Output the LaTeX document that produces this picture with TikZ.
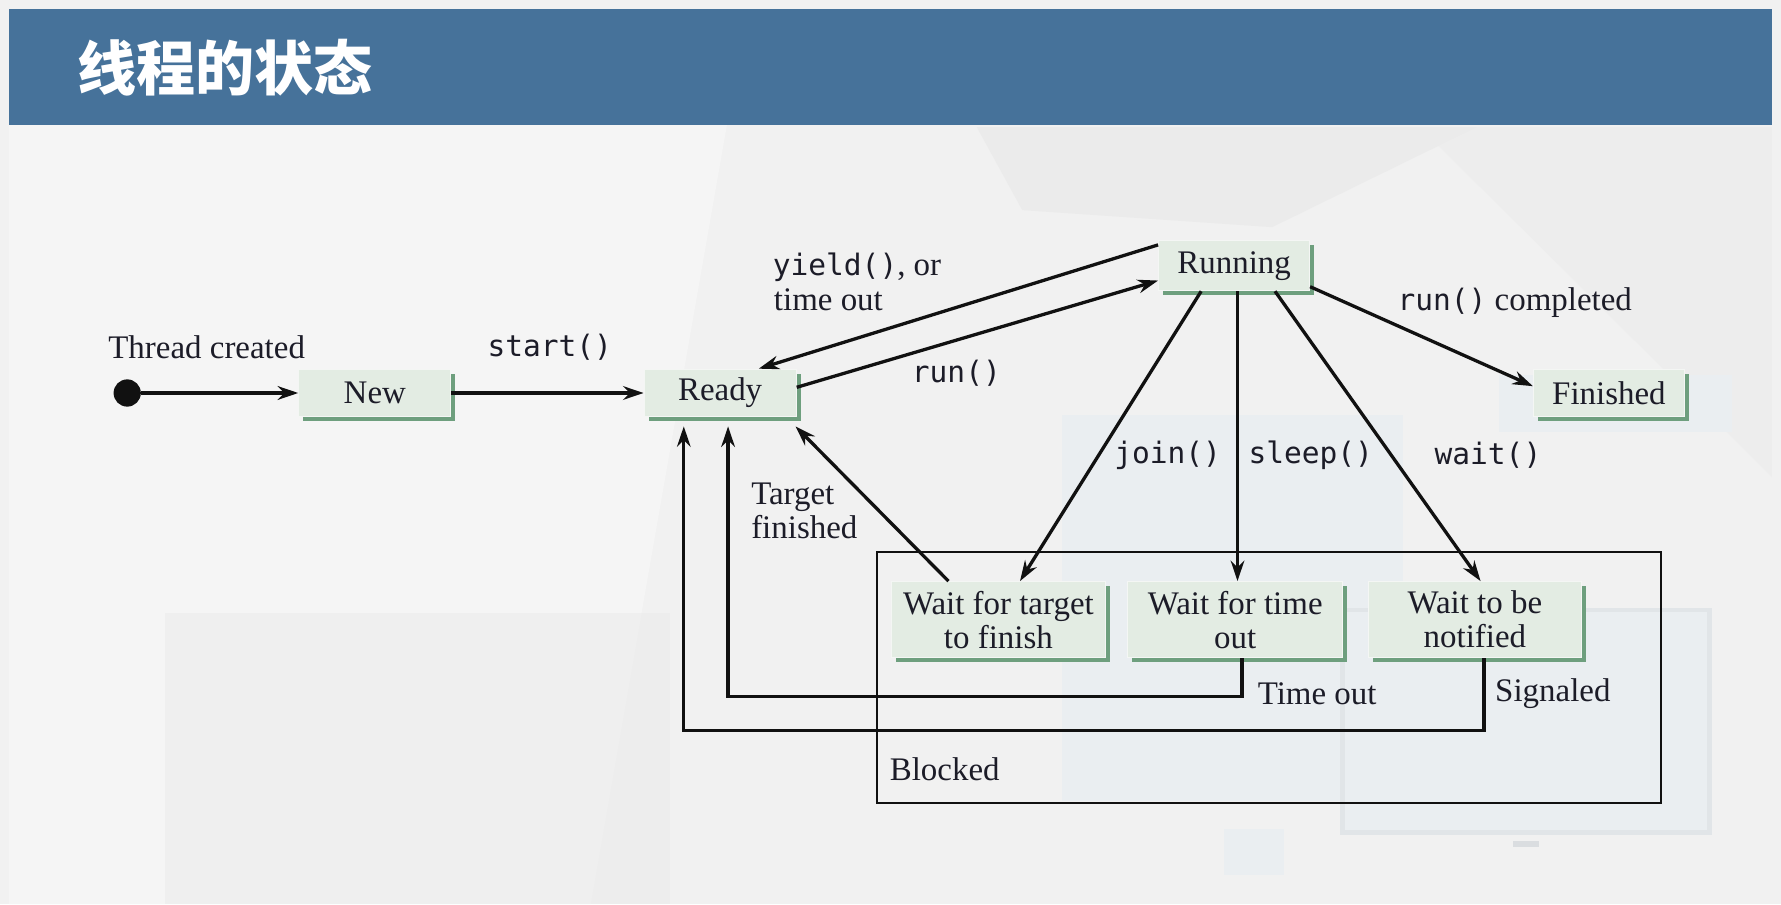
\documentclass[tikz,border=0pt]{standalone}
\usepackage{fontspec}
\setmainfont{Liberation Serif}
\newfontfamily\codefont{DejaVu Sans Mono}
\newfontfamily\cjkfont{Noto Sans CJK SC}
\usetikzlibrary{arrows.meta,shadows}
\definecolor{bgc}{HTML}{F1F1F1}
\definecolor{bgdark}{HTML}{EBEBEB}
\definecolor{bglight}{HTML}{F5F5F5}
\definecolor{bgblue}{HTML}{EAEEF1}
\definecolor{headc}{HTML}{46729A}
\definecolor{boxfill}{HTML}{E3ECE3}
\definecolor{boxshadow}{HTML}{6E9F7E}
\definecolor{boxedge}{HTML}{F4F6F4}
\definecolor{linec}{HTML}{111111}
\definecolor{txt}{HTML}{1C1C28}
\newcommand\mycode[1]{{\codefont\fontsize{13}{15}\selectfont #1}}
\tikzset{
  state/.style={fill=boxfill, draw=boxedge, line width=0.4pt,
    general shadow={fill=boxshadow, shadow xshift=2pt, shadow yshift=-2pt},
    inner sep=0pt, font=\fontsize{14.5}{15}\selectfont, text=txt, align=center},
  lbl/.style={inner sep=0pt, font=\fontsize{14.5}{15}\selectfont, text=txt},
  code/.style={inner sep=0pt, font=\codefont\fontsize{13}{15}\selectfont, text=txt},
  arr/.style={line width=1.45pt, draw=linec, -{Stealth[length=9pt,width=6pt]}},
}
\begin{document}
\begin{tikzpicture}[x=0.5pt,y=-0.5pt]
\useasboundingbox (0,0) rectangle (1568,796);
% background
\fill[bgc] (0,0) rectangle (1568,796);
\fill[bglight] (8,110) -- (640,110) -- (520,796) -- (8,796) -- cycle;
\fill[bgdark] (860,112) -- (1300,112) -- (1120,200) -- (900,185) -- cycle;
\fill[bgdark,opacity=0.5] (145,540) -- (590,540) -- (590,796) -- (145,796) -- cycle;
\fill[bgdark,opacity=0.5] (1250,112) -- (1560,112) -- (1560,420) -- cycle;
\fill[bgblue] (935,365) rectangle (1235,705);
\fill[bgblue] (1320,330) rectangle (1525,380);
\draw[bgblue!92!gray, line width=2pt, fill=bgblue] (1182,537) rectangle (1505,733);
\fill[bgblue!85!gray] (1332,740) rectangle (1355,746);
\fill[bgblue] (1078,730) rectangle (1130,770);
% header
\fill[headc] (8,8) rectangle (1560,110);
\node[anchor=west, text=white, inner sep=0pt,
  font=\cjkfont\bfseries\fontsize{26}{30}\selectfont] (title) at (68,60) {线程的状态};
% blocked region
\node[draw=linec, line width=0.8pt, minimum width=345pt, minimum height=110.5pt,
  inner sep=0pt] (blocked) at (1117,596.5) {};
\node[lbl, anchor=west] (lblocked) at (783,677) {Blocked};
% states
\node[circle, fill=linec, minimum size=12pt, inner sep=0pt] (start) at (112,346) {};
\node[state, minimum width=67pt, minimum height=20.5pt] (new) at (330,346) {New};
\node[state, minimum width=67pt, minimum height=21pt] (ready) at (634,346) {Ready};
\node[state, minimum width=66.5pt, minimum height=22pt] (running) at (1086.5,234) {Running};
\node[state, minimum width=66.5pt, minimum height=21pt] (finished) at (1416.5,346) {Finished};
\node[state, minimum width=94pt, minimum height=33.5pt] (waittarget) at (879,545.5) {Wait for target\\to finish};
\node[state, minimum width=94.5pt, minimum height=33.5pt] (waittime) at (1087.5,545.5) {Wait for time\\out};
\node[state, minimum width=93.5pt, minimum height=33.5pt] (waitnotify) at (1298.5,545.5) {Wait to be\\notified};
% connectors
\draw[arr, line width=1.8pt] (start) -- (new.west);
\draw[arr, line width=1.8pt] (new.east) -- (ready.west);
\draw[arr] ([yshift=-2pt]running.north west) -- ([xshift=17pt]ready.north);
\draw[arr] ([yshift=2.5pt]ready.east) -- ([yshift=-6.5pt]running.west);
\draw[arr] ([yshift=2pt]running.south east) -- ([yshift=3pt]finished.west);
\draw[arr] ([xshift=-14.5pt]running.south) -- ([xshift=9.5pt]waittarget.north);
\draw[arr] ([xshift=1.5pt]running.south) -- ([xshift=1pt]waittime.north);
\draw[arr] ([xshift=18pt]running.south) -- ([xshift=2.5pt]waitnotify.north);
\draw[arr] ([xshift=-22pt]waittarget.north) -- ([xshift=-0.5pt,yshift=-4pt]ready.south east);
\draw[arr] ([xshift=3pt]waittime.south) -- ++(0,34) -| ([xshift=3.5pt,yshift=-4pt]ready.south);
\draw[arr] ([xshift=4pt]waitnotify.south) -- ++(0,64) -| ([xshift=-16pt,yshift=-4pt]ready.south);
% labels
\node[lbl, anchor=west] (lthread) at (95,306) {Thread created};
\node[code] (lstart) at (484,306) {start()};
\node[lbl, anchor=west] (lyield) at (680,235) {\mycode{yield()}, or};
\node[lbl, anchor=west] (ltimeout1) at (681,264) {time out};
\node[code] (lrun) at (842,329) {run()};
\node[lbl, anchor=west] (lcompleted) at (1230,266) {\mycode{run()} completed};
\node[code] (ljoin) at (1028,401) {join()};
\node[code] (lsleep) at (1154,401) {sleep()};
\node[code] (lwait) at (1310,401) {wait()};
\node[lbl, anchor=west, align=left] (ltarget) at (661,450) {Target\\finished};
\node[lbl, anchor=west] (ltimeout2) at (1107,611) {Time out};
\node[lbl, anchor=west] (lsignaled) at (1316,611) {Signaled};
\end{tikzpicture}
\end{document}
